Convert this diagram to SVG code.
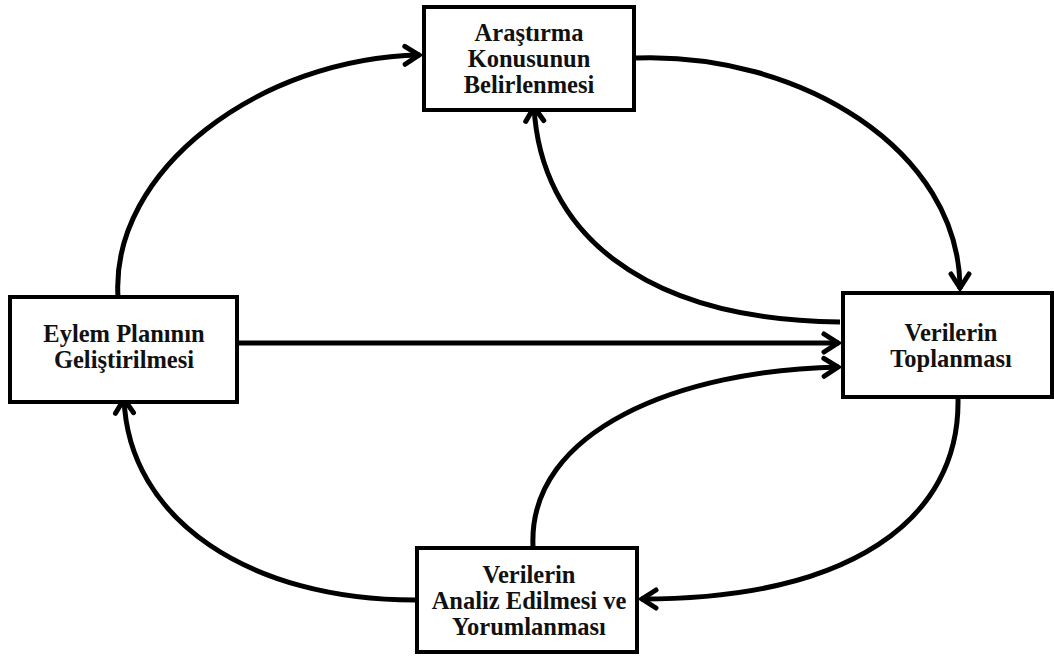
<svg xmlns="http://www.w3.org/2000/svg" width="1054" height="657" viewBox="0 0 1054 657">
<style>
.box{fill:#fff;stroke:#000;stroke-width:4}
.lbl{font-family:"Liberation Serif","Times New Roman",serif;font-weight:bold;font-size:24.5px;fill:#111;text-anchor:middle}
.con{fill:none;stroke:#000;stroke-width:5}
</style>
<defs>
<marker id="ah" markerUnits="userSpaceOnUse" markerWidth="40" markerHeight="40" refX="0" refY="0" viewBox="-20 -20 40 40" orient="auto">
<path d="M-15,-9 L-1,0 L-15,9" fill="none" stroke="#000" stroke-width="5" stroke-linejoin="miter" stroke-linecap="round"/>
</marker>
</defs>
<rect width="1054" height="657" fill="#fff"/>
<g id="connectors">
<path class="con" d="M118,297 C110,170 260,58 420,55" marker-end="url(#ah)"/>
<path class="con" d="M636,58 C800,52 960,150 960,289" marker-end="url(#ah)"/>
<path class="con" d="M840,322 C640,320 540,230 534,106" marker-end="url(#ah)"/>
<path class="con" d="M239,343 L839,343" marker-end="url(#ah)"/>
<path class="con" d="M533,546 C528,430 680,370 839,367" marker-end="url(#ah)"/>
<path class="con" d="M958,399 C960,520 850,599 641,599" marker-end="url(#ah)"/>
<path class="con" d="M415,600 C250,600 128,520 124,398" marker-end="url(#ah)"/>
</g>
<g id="node-top">
<rect class="box" x="424" y="7" width="210" height="103"/>
<text class="lbl" x="529" y="41">Araştırma</text>
<text class="lbl" x="529" y="67">Konusunun</text>
<text class="lbl" x="529" y="93">Belirlenmesi</text>
</g>
<g id="node-left">
<rect class="box" x="10" y="297" width="227" height="105"/>
<text class="lbl" x="124" y="342">Eylem Planının</text>
<text class="lbl" x="124" y="368">Geliştirilmesi</text>
</g>
<g id="node-right">
<rect class="box" x="843" y="293" width="209" height="104"/>
<text class="lbl" x="951" y="341">Verilerin</text>
<text class="lbl" x="951" y="367">Toplanması</text>
</g>
<g id="node-bottom">
<rect class="box" x="417" y="548" width="220" height="104"/>
<text class="lbl" x="529" y="583">Verilerin</text>
<text class="lbl" x="529" y="609">Analiz Edilmesi ve</text>
<text class="lbl" x="529" y="635">Yorumlanması</text>
</g>
</svg>
